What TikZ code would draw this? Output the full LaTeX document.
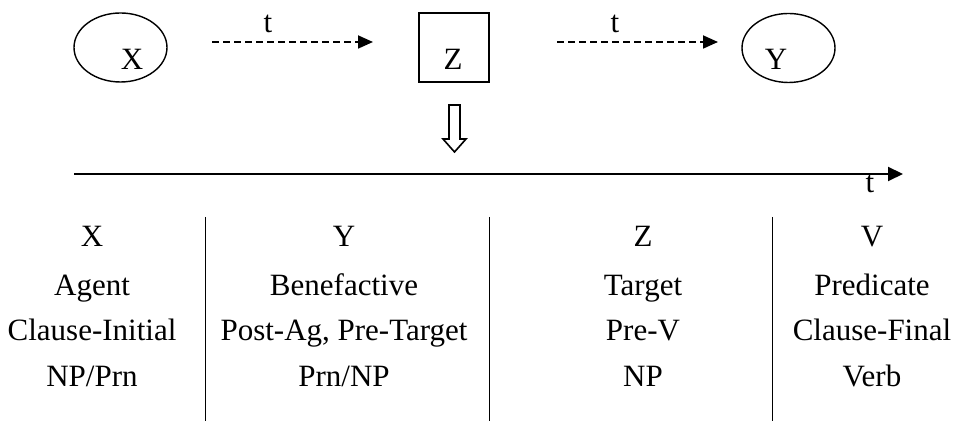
\documentclass[tikz,border=0pt]{standalone}
\usepackage{fontspec}
\setmainfont{Liberation Serif}
\usetikzlibrary{arrows.meta,shapes.geometric}

\tikzset{
  oval/.style={draw,ellipse,line width=0.7pt,minimum width=46.5pt,minimum height=34.5pt,inner sep=0pt},
  boxed/.style={draw,line width=0.7pt,minimum width=35pt,minimum height=34.5pt,inner sep=0pt},
  lbl/.style={font=\fontsize{15.5}{18}\selectfont,anchor=base,inner sep=0pt},
  flow/.style={dash pattern=on 3.5pt off 2pt,line width=0.9pt,-{Triangle[length=7.5pt,width=6.5pt]}},
  axis/.style={line width=1pt,-{Triangle[length=7.5pt,width=7pt]}},
  sep/.style={line width=0.5pt}
}

\begin{document}
\begin{tikzpicture}[x=0.5pt,y=-0.5pt]
  \useasboundingbox (0,0) rectangle (964,421);

  % participants
  \node[oval] (X) at (120.5,47.5) {};
  \node[boxed] (Z) at (454,47.5) {};
  \node[oval] (Y) at (788.5,48) {};
  \node[lbl] (xl) at (132,70) {X};
  \node[lbl] (zl) at (453,70) {Z};
  \node[lbl] (yl) at (776,70) {Y};

  % transfer in time
  \coordinate (a1) at (212,42);
  \coordinate (b1) at (373,42);
  \coordinate (a2) at (557,42);
  \coordinate (b2) at (718,42);
  \draw[flow] (a1) -- (b1);
  \draw[flow] (a2) -- (b2);
  \node[lbl] (t1) at (268,33) {t};
  \node[lbl] (t2) at (615,33) {t};

  \draw[line width=0.8pt] (449,105) -- (460,105) -- (460,139) -- (466,139)
    -- (454.5,152) -- (443,139) -- (449,139) -- cycle;

  % time axis
  \coordinate (t0) at (74,174);
  \coordinate (tE) at (903,174);
  \draw[axis] (t0) -- (tE);
  \node[lbl] (tt) at (870,193) {t};

  \draw[sep] (205,217) -- (205,421);
  \draw[sep] (489,217) -- (489,421);
  \draw[sep] (772,217) -- (772,421);

  % columns
  \node[lbl] (c1a) at (92,247) {X};
  \node[lbl] (c1b) at (92,296) {Agent};
  \node[lbl] (c1c) at (92,341) {Clause-Initial};
  \node[lbl] (c1d) at (92,387) {NP/Prn};

  \node[lbl] (c2a) at (344,247) {Y};
  \node[lbl] (c2b) at (344,296) {Benefactive};
  \node[lbl] (c2c) at (344,341) {Post-Ag, Pre-Target};
  \node[lbl] (c2d) at (344,387) {Prn/NP};

  \node[lbl] (c3a) at (643,247) {Z};
  \node[lbl] (c3b) at (643,296) {Target};
  \node[lbl] (c3c) at (643,341) {Pre-V};
  \node[lbl] (c3d) at (643,387) {NP};

  \node[lbl] (c4a) at (872,247) {V};
  \node[lbl] (c4b) at (872,296) {Predicate};
  \node[lbl] (c4c) at (872,341) {Clause-Final};
  \node[lbl] (c4d) at (872,387) {Verb};
\end{tikzpicture}
\end{document}
